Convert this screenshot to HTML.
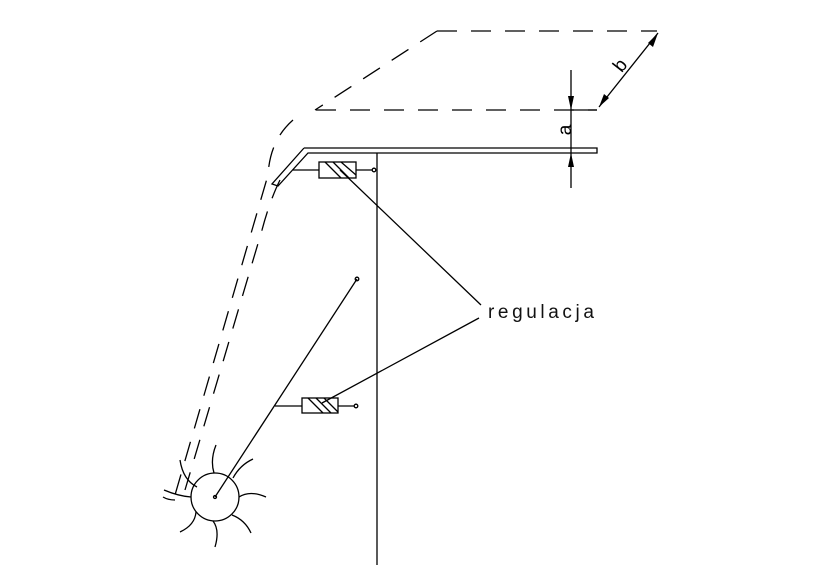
<!DOCTYPE html>
<html><head><style>body{margin:0;background:#fff}svg{display:block}</style></head><body>
<svg width="824" height="583" viewBox="0 0 824 583" xmlns="http://www.w3.org/2000/svg">
<rect width="824" height="583" fill="#fff"/>
<g stroke="#000" stroke-width="1.3" fill="none">
<g stroke-dasharray="20,14">
<path d="M437,31 L657,31"/>
<path d="M437,31 L315,110"/>
<path d="M316,110 L597,110"/>
<path d="M293,120 Q270,140 268,175 L175,495"/>
<path d="M280,180 Q270,200 262,230 L185,490"/>
</g>
<path d="M304,148 L597,148 L597,153 L308,153 L278,186 L272,184 L304,148"/>
<path d="M377,153 L377,565"/>
<rect x="319" y="162" width="37" height="16"/>
<path d="M293,170 L319,170 M356,170 L372,170"/>
<path d="M325,162 L341,178 M333,162 L349,178 M341,162 L356,175"/>
<circle cx="374" cy="170" r="1.8"/>
<rect x="302" y="398" width="36" height="15"/>
<path d="M275,406 L302,406 M338,406 L354,406"/>
<path d="M308,398 L323,413 M316,398 L331,413 M324,398 L338,412"/>
<circle cx="356" cy="406" r="1.8"/>
<path d="M215,497 L357,279"/>
<circle cx="357" cy="279" r="1.8"/>
<path d="M340,170 L481,305 M322,403 L479,318"/>
<circle cx="215" cy="497" r="24"/>
<circle cx="215" cy="497" r="1.5"/>
<path d="M197,487 Q183,480 180,460 M214,473 Q210,460 216,445 M233,478 Q240,465 253,459 M239,497 Q250,490 266,497 M232,515 Q245,520 251,533 M213,521 Q220,530 215,547 M196,512 Q195,525 180,532 M191,497 Q178,496 164,490"/>
<path d="M175,500 Q168,500 163,497"/>
<path d="M571,70 L571,188 M571,110 L597,110"/>
<path d="M599,107 L658,33"/>
</g>
<g fill="#000">
<path d="M571,110 L568,96 L574,96Z"/>
<path d="M571,153 L568,167 L574,167Z"/>
<path d="M599,107 L604,94 L609,98Z"/>
<path d="M658,33 L648,43 L653,47Z"/>
</g>
<text x="566" y="130" font-family="Liberation Sans, sans-serif" font-size="19" font-weight="300" transform="rotate(-90 566 130)" text-anchor="middle" dominant-baseline="middle">a</text>
<text x="621" y="66" font-family="Liberation Sans, sans-serif" font-size="19" transform="rotate(-52 621 66)" text-anchor="middle" dominant-baseline="middle">b</text>
<text x="488" y="318" font-family="Liberation Sans, sans-serif" font-size="19" letter-spacing="3.6" fill="#111">regulacja</text>
</svg>
</body></html>
